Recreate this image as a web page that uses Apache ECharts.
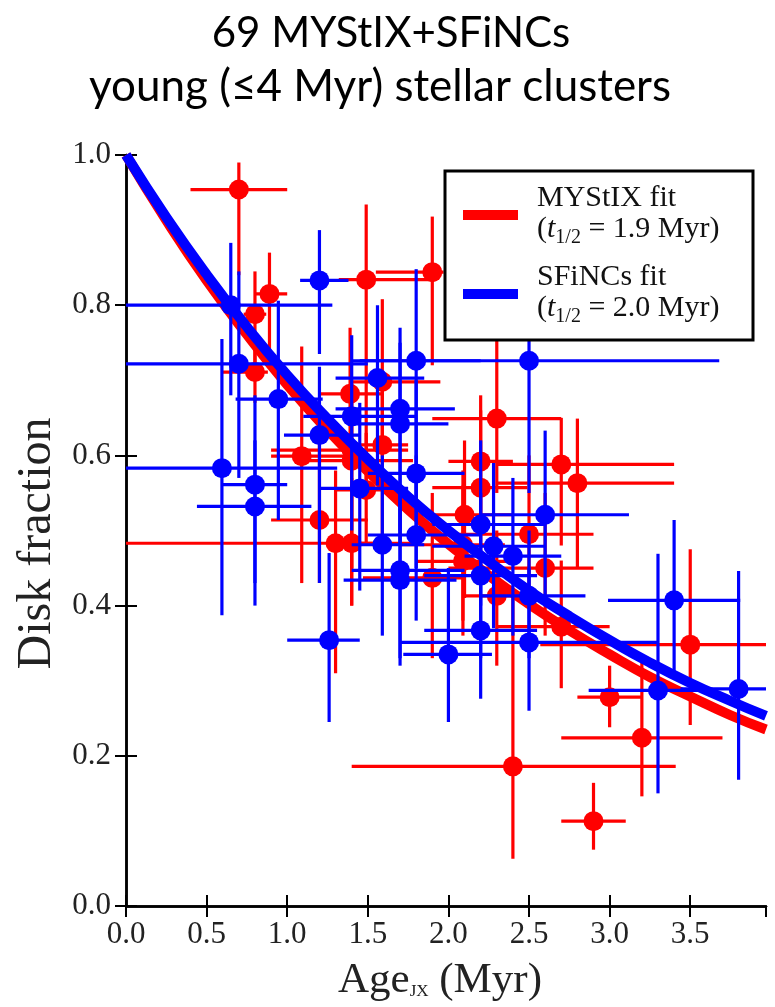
<!DOCTYPE html>
<html><head><meta charset="utf-8">
<script src="https://cdn.jsdelivr.net/npm/echarts@6/dist/echarts.min.js"></script>
<style>html,body{margin:0;padding:0;background:#fff}#c{width:775px;height:1007px}</style>
</head><body><div id="c"></div>
<script>
// ---- tick labels ----
const xTickLabels = ['0.0','0.5','1.0','1.5','2.0','2.5','3.0','3.5'];
const yTickLabels = ['0.0','0.2','0.4','0.6','0.8','1.0'];

// ---- MYStIX (red) clusters ----
const redAge    = [0.70,0.89,0.80,0.80,1.09,1.20,1.30,1.40,1.39,1.40,1.40,1.49,1.59,1.59,1.49,1.90,1.90,2.10,2.20,2.20,2.09,2.09,2.30,2.30,2.50,2.60,2.70,2.80,2.70,3.50,3.00,3.20,2.40,2.90];
const redFrac   = [0.954,0.815,0.788,0.711,0.599,0.514,0.483,0.483,0.682,0.607,0.593,0.554,0.614,0.698,0.834,0.844,0.437,0.521,0.592,0.557,0.481,0.459,0.649,0.413,0.495,0.450,0.588,0.563,0.372,0.348,0.278,0.224,0.186,0.113];
const redAgeLo  = [0.40,0.80,0.73,0.60,0.90,0.90,0.00,1.25,1.20,0.90,1.10,1.30,1.45,1.40,1.32,1.55,1.47,1.80,2.00,1.90,1.70,1.80,1.90,2.10,1.90,2.00,2.30,2.30,2.30,2.57,2.80,2.70,1.40,2.70];
const redAgeHi  = [1.00,1.00,0.87,0.88,1.45,1.50,1.80,1.55,1.60,1.75,1.78,1.70,1.75,1.95,1.92,1.97,2.09,2.40,2.40,2.49,2.35,2.40,2.70,2.50,2.90,2.90,3.40,3.40,3.00,4.50,3.20,3.70,3.41,3.10];
const redFracLo = [0.84,0.74,0.70,0.67,0.43,0.43,0.31,0.40,0.60,0.45,0.40,0.48,0.477,0.60,0.55,0.72,0.33,0.41,0.50,0.45,0.38,0.36,0.55,0.32,0.40,0.36,0.48,0.45,0.29,0.241,0.238,0.146,0.063,0.075];
const redFracHi = [0.99,0.87,0.845,0.76,0.745,0.62,0.58,0.57,0.77,0.70,0.68,0.63,0.70,0.808,0.934,0.918,0.55,0.62,0.68,0.66,0.58,0.56,0.753,0.50,0.60,0.55,0.65,0.649,0.46,0.475,0.32,0.331,0.41,0.164];

// ---- SFiNCs (blue) clusters ----
const blueAge    = [0.65,0.70,1.20,0.945,1.20,0.595,0.80,0.80,1.26,1.56,1.80,2.50,1.40,1.70,1.70,1.80,1.45,1.59,1.70,1.70,1.80,2.20,2.28,2.20,2.40,2.20,2.50,2.00,2.60,2.50,3.40,3.30,3.80];
const blueFrac   = [0.800,0.722,0.833,0.675,0.627,0.583,0.561,0.532,0.354,0.703,0.726,0.726,0.652,0.662,0.642,0.576,0.556,0.481,0.447,0.434,0.494,0.508,0.479,0.440,0.466,0.367,0.351,0.335,0.521,0.413,0.407,0.287,0.289];
const blueAgeLo  = [0.00,0.00,1.08,0.68,0.98,0.00,0.60,0.44,1.00,1.30,1.40,1.45,1.10,1.30,1.40,1.50,1.20,1.40,1.40,1.35,1.50,1.90,1.90,1.85,2.10,1.85,1.70,1.72,2.20,2.20,2.99,2.87,3.44];
const blueAgeHi  = [1.28,1.50,1.38,1.22,1.45,1.31,1.00,1.15,1.45,1.85,2.20,3.68,1.80,2.04,2.00,2.10,1.75,1.85,2.10,2.05,2.20,2.60,2.60,2.55,2.70,2.55,3.30,2.27,3.12,2.85,3.81,3.60,4.20];
const blueFracLo = [0.68,0.57,0.735,0.514,0.43,0.387,0.43,0.40,0.245,0.56,0.54,0.55,0.50,0.50,0.48,0.45,0.42,0.36,0.33,0.32,0.38,0.40,0.37,0.33,0.36,0.276,0.26,0.245,0.40,0.33,0.31,0.15,0.168];
const blueFracHi = [0.883,0.845,0.90,0.806,0.718,0.755,0.68,0.62,0.47,0.80,0.848,0.90,0.76,0.77,0.75,0.70,0.67,0.60,0.56,0.55,0.60,0.62,0.59,0.55,0.57,0.47,0.45,0.45,0.633,0.50,0.514,0.469,0.446];

// ---- fit curves ----
const fitAge  = [0,0.25,0.5,0.75,1.0,1.25,1.5,1.75,2.0,2.25,2.5,2.75,3.0,3.25,3.5,3.75,3.97];
const redFit  = [1.0,0.913,0.833,0.761,0.694,0.634,0.579,0.528,0.482,0.440,0.402,0.367,0.335,0.305,0.279,0.254,0.235];
const blueFit = [1.0,0.917,0.841,0.771,0.707,0.649,0.595,0.545,0.500,0.459,0.420,0.386,0.354,0.324,0.297,0.273,0.253];
const halfLife = ['1.9','2.0'];
const seriesNames = ['MYStIX fit','SFiNCs fit'];

const RED = '#ff0000', BLUE = '#0000ff';
const SERIF = '"Liberation Serif","DejaVu Serif",serif';

function build(ax, fr, axl, axh, frl, frh){
  return ax.map((x,i)=>[x, fr[i], axl[i], axh[i], frl[i], frh[i]]);
}
const redData = build(redAge, redFrac, redAgeLo, redAgeHi, redFracLo, redFracHi);
const blueData = build(blueAge, blueFrac, blueAgeLo, blueAgeHi, blueFracLo, blueFracHi);

function errRender(color){
  return function(params, api){
    const x = api.value(0), y = api.value(1);
    const a = api.coord([api.value(2), y]), b = api.coord([api.value(3), y]);
    const c = api.coord([x, api.value(4)]), d = api.coord([x, api.value(5)]);
    const st = {stroke: color, lineWidth: 3.2};
    return {type:'group', children:[
      {type:'line', shape:{x1:a[0],y1:a[1],x2:b[0],y2:b[1]}, style:st},
      {type:'line', shape:{x1:c[0],y1:c[1],x2:d[0],y2:d[1]}, style:st}
    ]};
  };
}

const XMAX = 3.97;
const tickStyle = {inside:true, length:11, lineStyle:{color:'#000', width:2}};
const lineStyleAx = {show:true, lineStyle:{color:'#000', width:2.5}};
const xFmt = v => { const i = Math.round(v/0.5); return Math.abs(v - i*0.5) < 1e-6 && i < xTickLabels.length ? xTickLabels[i] : ''; };
const yFmt = v => { const i = Math.round(v/0.2); return Math.abs(v - i*0.2) < 1e-6 && i < yTickLabels.length ? yTickLabels[i] : ''; };

const chart = echarts.init(document.getElementById('c'), null, {renderer:'canvas'});
chart.setOption({
  animation:false,
  backgroundColor:'#fff',
  grid:{left:126, right:9, top:155, bottom:97},
  xAxis:[
    {type:'value', min:0, max:XMAX, interval:0.5, position:'bottom',
     axisLine:lineStyleAx, axisTick:tickStyle, splitLine:{show:false},
     axisLabel:{formatter:xFmt, showMaxLabel:false, margin:13, fontFamily:SERIF, fontSize:31, color:'#222'},
     name:'Age{s|JX} (Myr)', nameLocation:'middle', nameGap:53,
     nameTextStyle:{fontFamily:SERIF, fontSize:43, color:'#222', padding:[0,12,0,0],
       rich:{s:{fontFamily:SERIF, fontSize:17, color:'#222', padding:[22,0,0,0]}}}},
    {type:'value', min:0, max:XMAX, interval:0.5, position:'top',
     axisLine:lineStyleAx, axisTick:tickStyle, splitLine:{show:false}, axisLabel:{show:false}}
  ],
  yAxis:[
    {type:'value', min:0, max:1, interval:0.2, position:'left',
     axisLine:lineStyleAx, axisTick:tickStyle, splitLine:{show:false},
     axisLabel:{formatter:yFmt, margin:15, fontFamily:SERIF, fontSize:31, color:'#222'},
     name:'Disk fraction', nameLocation:'middle', nameGap:58, nameRotate:90,
     nameTextStyle:{fontFamily:SERIF, fontSize:48, color:'#222', padding:[0,26,0,0]}},
    {type:'value', min:0, max:1, interval:0.2, position:'right',
     axisLine:lineStyleAx, axisTick:tickStyle, splitLine:{show:false}, axisLabel:{show:false}}
  ],
  series:[
    {type:'custom', name:'MYStIX err', renderItem:errRender(RED), data:redData, encode:{x:0,y:1}, clip:true, z:2},
    {type:'scatter', name:'MYStIX', data:redData.map(d=>[d[0],d[1]]), symbol:'circle', symbolSize:20, itemStyle:{color:RED, opacity:1}, z:3},
    {type:'line', name:seriesNames[0], data:fitAge.map((x,i)=>[x,redFit[i]]), smooth:true, showSymbol:false, symbol:'none', lineStyle:{color:RED, width:10}, z:4},
    {type:'line', name:seriesNames[1], data:fitAge.map((x,i)=>[x,blueFit[i]]), smooth:true, showSymbol:false, symbol:'none', lineStyle:{color:BLUE, width:10}, z:5},
    {type:'custom', name:'SFiNCs err', renderItem:errRender(BLUE), data:blueData, encode:{x:0,y:1}, clip:true, z:6},
    {type:'scatter', name:'SFiNCs', data:blueData.map(d=>[d[0],d[1]]), symbol:'circle', symbolSize:20, itemStyle:{color:BLUE, opacity:1}, z:7}
  ],
  graphic:[
    {type:'text', style:{x:391, y:33, text:'69 MYStIX+SFiNCs', align:'center', verticalAlign:'middle', font:'42px Lato, "Noto Sans", sans-serif', fill:'#000'}},
    {type:'text', style:{x:380, y:87, text:'young (≤4 Myr) stellar clusters', align:'center', verticalAlign:'middle', font:'44px Lato, "Noto Sans", sans-serif', fill:'#000'}},
    {type:'rect', z:100, shape:{x:445, y:171, width:308, height:169}, style:{fill:'#fff', stroke:'#000', lineWidth:3}},
    {type:'rect', z:101, shape:{x:463, y:210, width:55, height:10}, style:{fill:RED}},
    {type:'rect', z:101, shape:{x:463, y:289, width:55, height:10}, style:{fill:BLUE}},
    {type:'text', z:101, style:{x:537, y:198, text:seriesNames[0], verticalAlign:'middle', font:'30px ' + SERIF, fill:'#111'}},
    {type:'text', z:101, style:{x:537, y:229, text:'({i|t}{s|1/2} = ' + halfLife[0] + ' Myr)', verticalAlign:'middle', font:'30px ' + SERIF, fill:'#111',
       rich:{i:{fontFamily:SERIF, fontStyle:'italic', fontSize:30, fill:'#111'}, s:{fontFamily:SERIF, fontSize:20, fill:'#111', padding:[18,0,0,0]}}}},
    {type:'text', z:101, style:{x:537, y:277, text:seriesNames[1], verticalAlign:'middle', font:'30px ' + SERIF, fill:'#111'}},
    {type:'text', z:101, style:{x:537, y:308, text:'({i|t}{s|1/2} = ' + halfLife[1] + ' Myr)', verticalAlign:'middle', font:'30px ' + SERIF, fill:'#111',
       rich:{i:{fontFamily:SERIF, fontStyle:'italic', fontSize:30, fill:'#111'}, s:{fontFamily:SERIF, fontSize:20, fill:'#111', padding:[18,0,0,0]}}}}
  ]
});
</script></body></html>
